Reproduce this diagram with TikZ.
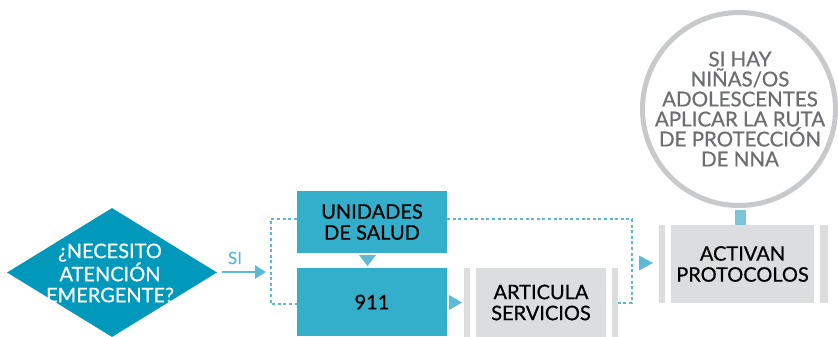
\documentclass[tikz,border=0pt]{standalone}
\usepackage{fontspec}
\setmainfont{Lato}
\newfontface\medfont{Lato}[FakeBold=0.6]
\usetikzlibrary{shapes.geometric,arrows.meta}
\definecolor{dteal}{HTML}{0099BC}
\definecolor{mteal}{HTML}{33AFCB}
\definecolor{lblue}{HTML}{5DBAD5}
\definecolor{cblue}{HTML}{7CC4D8}
\definecolor{gbox}{HTML}{DCDDDF}
\definecolor{gring}{HTML}{C8C9CB}
\definecolor{gtext}{HTML}{6D6E71}
\tikzset{
  tealbox/.style={fill=mteal, inner sep=0, align=center, font=\medfont\fontsize{20}{21}\selectfont, text=black},
  graybox/.style={fill=gbox, inner sep=0, align=center, font=\medfont\fontsize{20}{21}\selectfont, text=black},
  grbar/.style={fill=gbox, inner sep=0, minimum width=6pt},
  dotline/.style={draw=lblue, line width=2.6pt, dash pattern=on 3pt off 2.6pt},
  tri/.style={fill=lblue}
}
\begin{document}
\begin{tikzpicture}[x=1pt,y=-1pt]
\useasboundingbox (0,0) rectangle (838,337);
% diamond
\node[diamond, fill=dteal, minimum width=210pt, minimum height=129pt, inner sep=0] (q) at (112,272.5) {};
\node[align=center, text=white, font=\medfont\fontsize{20}{21}\selectfont] (qt) at (110,273) {¿NECESITO\\ATENCIÓN\\EMERGENTE?};
% boxes
\node[tealbox, minimum width=150pt, minimum height=62pt] (us) at (372,222) {UNIDADES\\DE SALUD};
\node[tealbox, minimum width=150pt, minimum height=68pt] (n911) at (372,302) {911};
\node[grbar, minimum height=69pt] (ab1) at (467,302.5) {};
\node[graybox, minimum width=130pt, minimum height=69pt] (art) at (541,302.5) {ARTICULA\\SERVICIOS};
\node[grbar, minimum height=69pt] (ab2) at (614.5,302.5) {};
\node[grbar, minimum height=78pt] (pb1) at (662,264) {};
\node[graybox, minimum width=143pt, minimum height=78pt] (act) at (742.5,264) {ACTIVAN\\PROTOCOLOS};
\node[grbar, minimum height=78pt, minimum width=8pt] (pb2) at (824,264) {};
% circle
\node[circle, draw=gring, line width=5pt, minimum size=193pt, inner sep=0, fill=white] (circ) at (739,109) {};
\node[align=center, text=gtext, font=\medfont\fontsize{20.5}{20}\selectfont] (ct) at (740,109) {SI HAY\\NIÑAS/OS\\ADOLESCENTES\\APLICAR LA RUTA\\DE PROTECCIÓN\\DE NNA};
\fill[cblue] (circ.south) ++(-4.5,2) rectangle (act.north -| 746,0);
% SI arrow
\node[text=lblue, font=\medfont\fontsize{17}{17}\selectfont] (si) at (235,258) {SI};
\coordinate (sa) at (222,272);
\coordinate (sb) at (266,272);
\draw[lblue, line width=2.5pt, -{Triangle[length=11pt,width=13pt]}] (sa) -- (sb);
% dotted bracket
\draw[dotline] (us.west |- 0,219) -- (271,219) -- (271,304) -- (n911.west |- 0,304);
\draw[dotline] (us.east |- 0,219) -- (632,219) -- (632,303) -- (ab2.east |- 0,303);
% triangles
\fill[tri] (359,255) -- (376,255) -- (367.5,266) -- cycle;
\fill[tri] (449,295) -- (449,310) -- (462,302.5) -- cycle;
\fill[tri] (639,255.5) -- (639,270.5) -- (653,263) -- cycle;
\end{tikzpicture}
\end{document}
